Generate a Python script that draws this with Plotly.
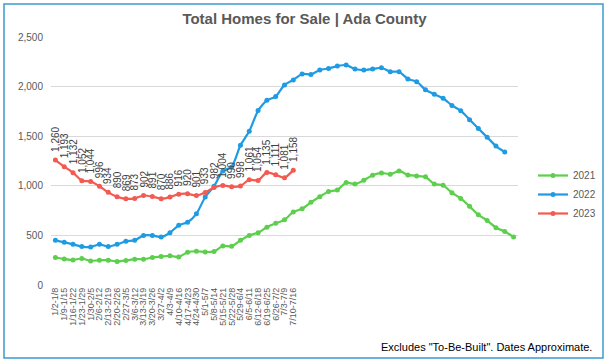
import plotly.graph_objects as go

week_labels = ["1/2-1/8", "1/9-1/15", "1/16-1/22", "1/23-1/29", "1/30-2/5", "2/6-2/12",
               "2/13-2/19", "2/20-2/26", "2/27-3/5", "3/6-3/12", "3/13-3/19", "3/20-3/26",
               "3/27-4/2", "4/3-4/9", "4/10-4/16", "4/17-4/23", "4/24-4/30", "5/1-5/7",
               "5/8-5/14", "5/15-5/21", "5/22-5/28", "5/29-6/4", "6/5-6/11", "6/12-6/18",
               "6/19-6/25", "6/26-7/2", "7/3-7/9", "7/10-7/16"]

homes_2021 = [277, 263, 253, 267, 243, 250, 250, 237, 247, 260, 260, 277, 287, 295, 282,
              330, 340, 333, 337, 393, 390, 450, 500, 527, 583, 623, 657, 737, 768, 833,
              890, 943, 957, 1033, 1017, 1057, 1107, 1130, 1117, 1150, 1110, 1100, 1090,
              1017, 1005, 930, 873, 793, 707, 650, 577, 540, 483]

homes_2022 = [450, 430, 410, 387, 383, 410, 387, 410, 440, 450, 500, 500, 483, 527, 603,
              633, 717, 887, 995, 1150, 1190, 1408, 1550, 1758, 1862, 1900, 2017, 2067,
              2127, 2123, 2167, 2183, 2207, 2217, 2177, 2167, 2177, 2190, 2150, 2150, 2077,
              2050, 1967, 1923, 1883, 1810, 1757, 1667, 1577, 1490, 1400, 1340]

homes_2023 = [1260, 1193, 1132, 1052, 1044, 996, 934, 890, 869, 873, 902, 891, 870, 886,
              916, 920, 901, 933, 982, 1004, 990, 998, 1061, 1054, 1135, 1111, 1081, 1158]

y_ticks = [0, 500, 1000, 1500, 2000, 2500]

series = [("2021", homes_2021, "#5ccf4c"),
          ("2022", homes_2022, "#1f9be3"),
          ("2023", homes_2023, "#f25a52")]

W, H = 609, 363
L, R, T, B = 51, 91, 37, 78
pw, ph = W - L - R, H - T - B

def px_x(p):
    return (p - L) / pw

def px_y(p):
    return (H - B - p) / ph

fig = go.Figure()
for name, vals, col in series:
    fig.add_trace(go.Scatter(
        x=list(range(len(vals))), y=vals, name=name, mode="lines+markers",
        line=dict(color=col, width=2.2, shape="spline", smoothing=0.6),
        marker=dict(color=col, size=5, symbol="circle"),
    ))

for i, v in enumerate(homes_2023):
    fig.add_annotation(
        x=i, y=v, text=f"{v:,}", textangle=-90, showarrow=False,
        xanchor="center", yanchor="bottom", yshift=6,
        font=dict(size=10, color="#404040", family="Liberation Sans"),
    )

fig.add_annotation(
    xref="paper", yref="paper", x=px_x(594), y=px_y(347),
    text='Excludes "To-Be-Built". Dates Approximate.', showarrow=False,
    xanchor="right", yanchor="middle",
    font=dict(size=11, color="#000000", family="Liberation Sans"),
)

fig.add_shape(type="rect", xref="paper", yref="paper",
              x0=px_x(4), x1=px_x(603), y0=px_y(358), y1=px_y(4),
              line=dict(color="#3b9bd1", width=1.5), layer="below")

fig.update_layout(
    width=W, height=H,
    margin=dict(l=L, r=R, t=T, b=B, autoexpand=False),
    paper_bgcolor="white", plot_bgcolor="white",
    title=dict(text="<b>Total Homes for Sale | Ada County</b>", x=0.5, xref="container",
               xanchor="center", y=1 - 19 / H, yanchor="middle",
               font=dict(size=15, color="#595959", family="Liberation Sans")),
    font=dict(family="Liberation Sans", color="#595959"),
    showlegend=True,
    legend=dict(x=px_x(533), y=px_y(161), xanchor="left", yanchor="top",
                font=dict(size=10, color="#595959"), bgcolor="rgba(0,0,0,0)",
                itemwidth=30, tracegroupgap=0),
    xaxis=dict(range=[-0.5, 52.5], tickmode="array", automargin=False,
               tickvals=list(range(len(week_labels))), ticktext=week_labels,
               tickangle=-90, tickfont=dict(size=9, color="#595959"),
               showgrid=False, zeroline=False, showline=False, ticks=""),
    yaxis=dict(range=[0, 2500], tickvals=y_ticks, tickformat=",", automargin=False,
               tickfont=dict(size=10, color="#595959"), ticklabelstandoff=7,
               showgrid=True, gridcolor="#d9d9d9", gridwidth=1,
               zeroline=False, showline=False, ticks=""),
)

fig.write_html("out.html", config={"displayModeBar": False},
               post_script="document.body.style.margin='0';document.body.style.overflow='hidden';")
